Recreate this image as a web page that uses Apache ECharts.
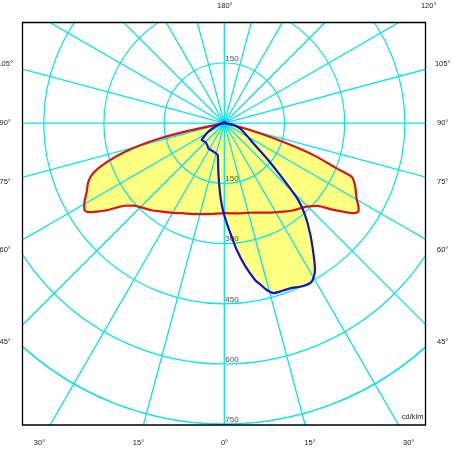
<!DOCTYPE html>
<html><head><meta charset="utf-8">
<script src="https://cdn.jsdelivr.net/npm/echarts@6/dist/echarts.min.js"></script>
<style>html,body{margin:0;padding:0;background:#fff}#c{width:464px;height:459px}</style>
</head><body><div id="c"></div>
<script>
// Luminous intensity (cd/klm) vs gamma angle; negative angle = left half of the diagram
const ringValues = [150, 300, 450, 600, 750];
const redCurve = [
  [-90,0],[-79,24],[-77.8,100],[-76.4,178],[-74,257],[-71.4,314],[-69.1,350],[-66.7,369],
  [-63.5,383],[-60.2,402],[-58.2,410],[-56.8,405],[-55.3,387],[-53.2,361],[-50.3,322],
  [-47.8,306],[-44.3,294],[-40,283],[-35.3,270],[-30,258],[-25.3,248],[-18,238],[-10,230],[0,224],
  [3.6,225],[10,228],[18,234],[26,248],[33.7,265],[38,276],[41.7,284],[44.6,292],[48.2,309],
  [51.5,347],[53.4,370],[55.1,392],[56.6,400],[57.7,396],[60.4,379],[64.7,360],[67.2,344],
  [68.1,302],[70.3,236],[72.1,163],[74.2,92],[78.7,23],[90,0]
];
const blueCurve = [
  [-180,4],[-135,4],[-90,3],[-80,10],[-69.4,25],[-62,45],[-56.4,61],[-53.4,70],[-50,69],
  [-46.2,67],[-38,69],[-32.5,74],[-24.6,75],[-17.5,77],[-11.7,81],[-9.2,98],[-7.3,118],[-5,150],
  [-2.5,192],[-0.6,221],[1.4,249],[3.7,283],[5.6,317],[8.2,358],[11.1,398],[12.6,412],[14.3,429],
  [16.3,441],[18.3,442],[21.7,443],[25.9,451],[28.9,451],[31.7,430],[34.4,393],[37.9,348],
  [41.3,305],[43.9,266],[45.3,230],[47.1,190],[50.4,137],[55.3,88],[60,68],[66,52],[72,40],
  [78.7,23],[90,3],[135,4],[180,4]
];
const sideAngleLabels = ['105°','90°','75°','60°','45°'];
const bottomAngleLabels = ['30°','15°','0°','15°','30°'];
const topAngleLabels = ['180°','120°'];
const unitLabel = 'cd/klm';

const CX = 224.3, CY = 123.2, R = 301;
const BOX = {x: 22.5, y: 22.5, w: 403, h: 402.5};
const CYAN = '#00e6f0';
const FONT = "'Liberation Sans', Arial, sans-serif";

const toPolar = arr => arr.map(p => [p[1], p[0]]);
const ringLabelData = [[ringValues[0], 180]].concat(ringValues.map(v => [v, 0]));

const txt = (text, x, y, align) => ({
  type: 'text', z: 60, x: x, y: y,
  style: {text: text, fill: '#1a1a1a', font: '7.5px ' + FONT, textAlign: align, textVerticalAlign: 'middle'}
});
const sideY = [64.2, 123.3, 182, 249.7, 342.2];
const bottomX = [39.5, 138.5, 224.5, 310, 408.7];
const graphics = [
  {type:'rect', z:50, shape:{x:0,y:0,width:464,height:BOX.y}, style:{fill:'#fff'}},
  {type:'rect', z:50, shape:{x:0,y:BOX.y+BOX.h,width:464,height:60}, style:{fill:'#fff'}},
  {type:'rect', z:50, shape:{x:0,y:0,width:BOX.x,height:459}, style:{fill:'#fff'}},
  {type:'rect', z:50, shape:{x:BOX.x+BOX.w,y:0,width:60,height:459}, style:{fill:'#fff'}},
  {type:'rect', z:55, shape:{x:BOX.x,y:BOX.y,width:BOX.w,height:BOX.h}, style:{fill:'none', stroke:'#000', lineWidth:1.3}},
  txt(topAngleLabels[0], 224.8, 5.5, 'center'),
  txt(topAngleLabels[1], 428.7, 5.5, 'center'),
  txt(unitLabel, 423.5, 417, 'right')
];
sideAngleLabels.forEach((t, i) => {
  graphics.push(txt(t, 5.2, sideY[i], 'center'));
  graphics.push(txt(t, 442.7, sideY[i], 'center'));
});
bottomAngleLabels.forEach((t, i) => graphics.push(txt(t, bottomX[i], 443, 'center')));

const chart = echarts.init(document.getElementById('c'), null, {renderer: 'canvas'});
chart.setOption({
  backgroundColor: '#fff',
  animation: false,
  polar: [
    {center: [CX, CY], radius: [0, R]},
    {center: [CX, CY], radius: [0, 460]}
  ],
  radiusAxis: [
    {polarIndex: 0, type: 'value', min: 0, max: 750, interval: 150,
     axisLine: {show: false}, axisTick: {show: false}, axisLabel: {show: false},
     splitLine: {show: true, lineStyle: {color: CYAN, width: 1.2}}},
    {polarIndex: 1, type: 'value', min: 0, max: 1, show: false}
  ],
  angleAxis: [
    {polarIndex: 0, type: 'value', min: -180, max: 180, interval: 15, startAngle: 90, clockwise: false,
     axisLine: {show: true, lineStyle: {color: CYAN, width: 1.2}}, axisTick: {show: false},
     axisLabel: {show: false}, splitLine: {show: false}},
    {polarIndex: 1, type: 'value', min: -180, max: 180, interval: 15, startAngle: 90, clockwise: false,
     axisLine: {show: false}, axisTick: {show: false}, axisLabel: {show: false},
     splitLine: {show: true, lineStyle: {color: CYAN, width: 1.3}}}
  ],
  series: [
    {type: 'line', coordinateSystem: 'polar', polarIndex: 0, z: -1, data: toPolar(redCurve),
     smooth: 0.25, symbol: 'none', lineStyle: {width: 0, opacity: 0},
     areaStyle: {color: '#ffff80', opacity: 1}, silent: true},
    {type: 'line', coordinateSystem: 'polar', polarIndex: 0, z: -1, data: toPolar(blueCurve),
     smooth: 0.25, symbol: 'none', lineStyle: {width: 0, opacity: 0},
     areaStyle: {color: '#ffff80', opacity: 1}, silent: true},
    {type: 'line', coordinateSystem: 'polar', polarIndex: 0, z: 3, data: toPolar(redCurve),
     smooth: 0.25, symbol: 'none', lineStyle: {width: 2.2, color: '#d81414'}},
    {type: 'line', coordinateSystem: 'polar', polarIndex: 0, z: 4, data: toPolar(blueCurve),
     smooth: 0.25, symbol: 'none', lineStyle: {width: 2.2, color: '#1414c4'}},
    {type: 'scatter', coordinateSystem: 'polar', polarIndex: 0, z: 5, data: ringLabelData,
     symbolSize: 1, itemStyle: {color: 'rgba(0,0,0,0)'}, silent: true,
     label: {show: true, position: [1.5, -8], align: 'left', verticalAlign: 'top',
       formatter: p => String(p.value[0]), fontSize: 8, fontFamily: FONT, color: '#1a1a1a'}}
  ],
  graphic: graphics
});
</script></body></html>
